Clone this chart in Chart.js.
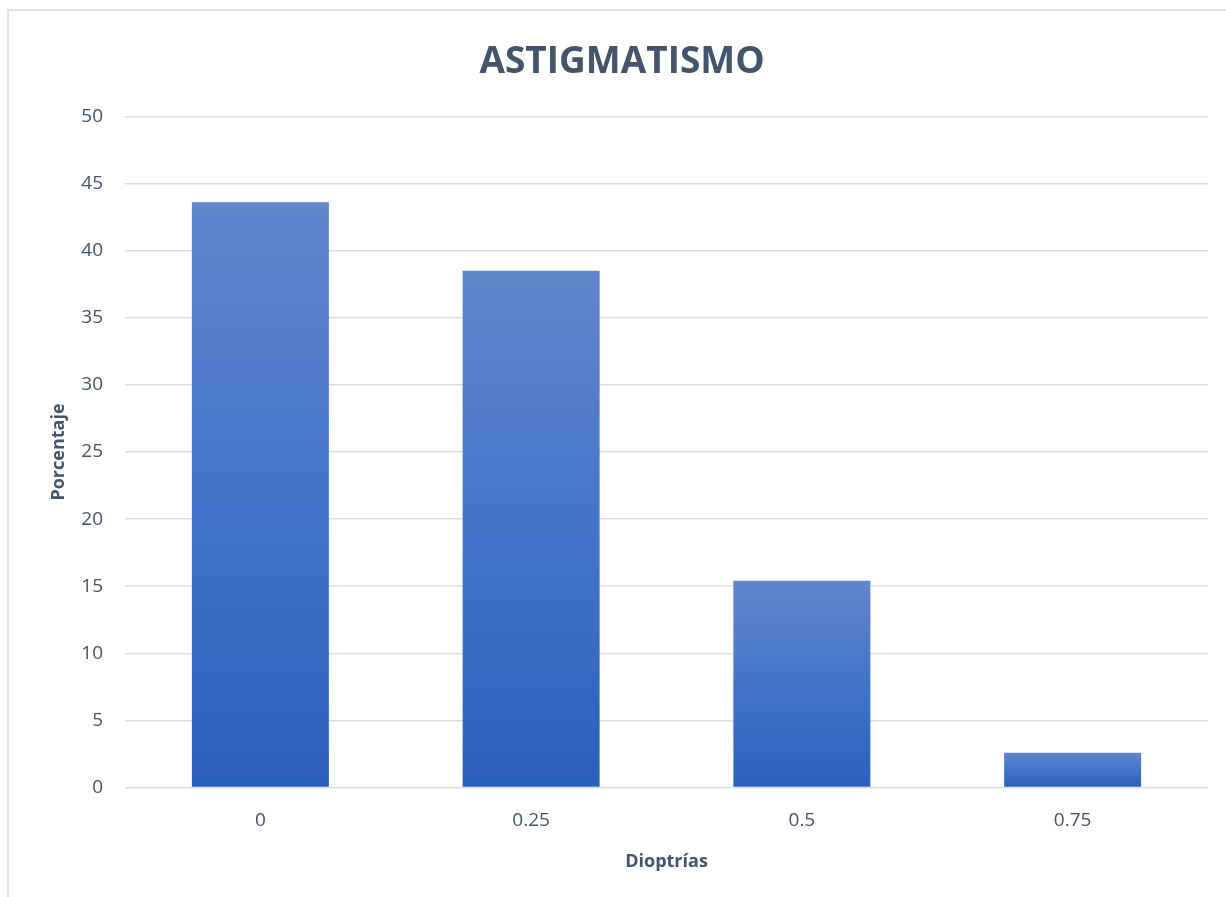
<!DOCTYPE html>
<html>
<head>
<meta charset="utf-8">
<script src="https://cdn.jsdelivr.net/npm/chart.js@4.4.0/dist/chart.umd.min.js"></script>
<style>
  html, body { margin: 0; padding: 0; background: #fff; }
  #frame {
    position: absolute; left: 7px; top: 9px; width: 1300px; height: 1000px;
    border-left: 2px solid #dde1e8; border-top: 2px solid #dde1e8;
  }
  #wrap { position: absolute; left: 0; top: 0; width: 1226px; height: 897px; }
</style>
</head>
<body>
<div id="frame"></div>
<div id="wrap"><canvas id="chart"></canvas></div>
<script>
// data
const categories = ['0', '0.25', '0.5', '0.75'];
const percentages = [43.6, 38.5, 15.4, 2.6];

const textColor = '#44546A';
const fontFamily = '"Open Sans", "Noto Sans", sans-serif';

// vertical gradient per bar, from its own top to the zero line
const barGradient = (context) => {
    const chart = context.chart;
    const { ctx, chartArea, scales } = chart;
    if (!chartArea) return '#4472C4';
    const value = context.raw;
    const top = scales.y.getPixelForValue(value);
    const bottom = scales.y.getPixelForValue(0);
    const g = ctx.createLinearGradient(0, top, 0, bottom);
    g.addColorStop(0, '#6285CB');
    g.addColorStop(0.5, '#4374CA');
    g.addColorStop(1, '#2C60BD');
    return g;
};

new Chart(document.getElementById('chart'), {
    type: 'bar',
    data: {
        labels: categories,
        datasets: [{
            label: 'Porcentaje',
            data: percentages,
            backgroundColor: barGradient,
            borderWidth: 0,
            categoryPercentage: 1,
            barPercentage: 0.506
        }]
    },
    options: {
        responsive: true,
        maintainAspectRatio: false,
        animation: false,
        layout: { padding: { left: 36, right: 18, top: 40, bottom: 24 } },
        plugins: {
            legend: { display: false },
            tooltip: { enabled: false },
            title: {
                display: true,
                text: 'ASTIGMATISMO',
                color: textColor,
                font: { family: fontFamily, size: 37, weight: 'bold' },
                padding: { top: 0, bottom: 32 }
            }
        },
        scales: {
            x: {
                grid: { display: false },
                border: { display: false },
                ticks: { color: textColor, font: { family: fontFamily, size: 19 }, padding: 14 },
                title: {
                    display: true,
                    text: 'Dioptrías',
                    color: textColor,
                    font: { family: fontFamily, size: 18, weight: 'bold' },
                    padding: { top: 5, bottom: 0 }
                }
            },
            y: {
                min: 0,
                max: 50,
                ticks: { stepSize: 5, color: textColor, font: { family: fontFamily, size: 19 }, padding: 22 },
                grid: { color: '#dadee5', lineWidth: 1.5, drawTicks: false },
                border: { display: false },
                title: {
                    display: true,
                    text: 'Porcentaje',
                    color: textColor,
                    font: { family: fontFamily, size: 18, weight: 'bold' },
                    padding: { top: 12, bottom: 8 }
                },
                afterFit: (scale) => { scale.width = 89; }
            }
        }
    }
});
</script>
</body>
</html>
